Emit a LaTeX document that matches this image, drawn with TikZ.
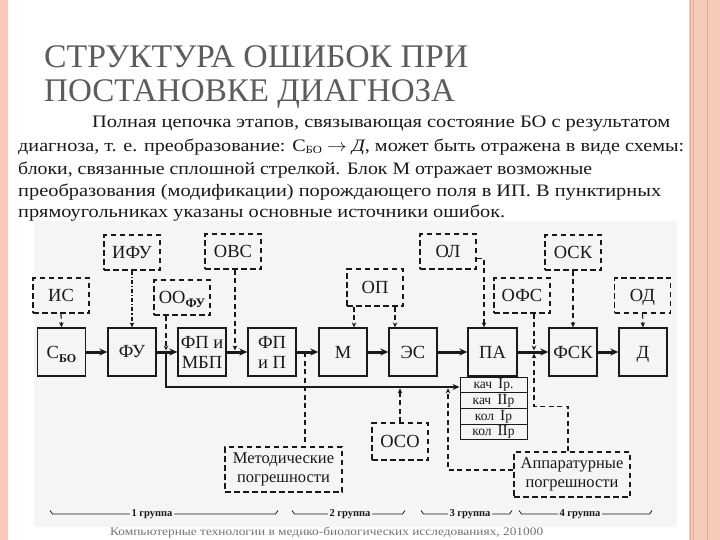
\documentclass[tikz,border=0pt]{standalone}
\usepackage{fontspec}
\setmainfont{Liberation Serif}
\usepackage{graphicx}
\usetikzlibrary{arrows.meta}
\definecolor{salmon}{RGB}{248,203,185}
\definecolor{salmonline}{RGB}{236,168,140}
\definecolor{scanbg}{RGB}{245,245,245}
\definecolor{titlegray}{RGB}{92,92,92}
\definecolor{ink}{RGB}{25,25,25}
\definecolor{footgray}{RGB}{115,115,115}
\newcommand{\fitw}[2]{\resizebox{#1}{\height}{#2}}
\newcommand{\RN}[1]{{\fontsize{15.5}{15.5}\selectfont #1}}
\newcommand{\nodepth}[1]{\raisebox{0pt}[\height][0pt]{#1}}
\begin{document}
\begin{tikzpicture}[x=1pt,y=-1pt,
  blk/.style={draw=ink, line width=1.3pt, minimum width=48pt, minimum height=48pt, inner sep=0pt, font=\rmfamily\fontsize{18.5}{20}\selectfont, align=center, text=ink},
  dbox/.style={draw=ink, line width=1.3pt, dash pattern=on 5.5pt off 3.5pt, minimum width=56pt, minimum height=35pt, inner sep=0pt, font=\rmfamily\fontsize{18.5}{20}\selectfont, align=center, text=ink},
  rowbox/.style={draw=ink, line width=1pt, minimum width=67pt, minimum height=15.75pt, inner sep=0pt, font=\rmfamily\fontsize{13.5}{13.5}\selectfont, text=ink},
  flow/.style={draw=ink, line width=3pt, -{Stealth[length=8pt,width=7pt]}},
  bus/.style={draw=ink, line width=2.5pt},
  dlink/.style={draw=ink, line width=1.2pt, dash pattern=on 5pt off 3.5pt},
  dtip/.style={-{Stealth[length=5pt,width=4.5pt]}},
  bodyline/.style={anchor=base west, inner sep=0pt, text=ink, font=\rmfamily\fontsize{17.5}{20}\selectfont},
  grp/.style={fill=scanbg, inner sep=1.5pt, text=ink, font=\rmfamily\bfseries\fontsize{10.5}{10.5}\selectfont}
]
\useasboundingbox (0,0) rectangle (720,540);
% frame strips
\fill[white] (0,0) rectangle (720,540);
\fill[salmon] (0,0) rectangle (8,540);
\fill[salmon] (689,0) rectangle (720,540);
\draw[salmonline, line width=1pt] (690.5,0) -- (690.5,540);
\draw[salmonline, line width=1pt] (693.5,0) -- (693.5,540);
\draw[salmonline, line width=1pt] (707.5,0) -- (707.5,540);
% title
\node[anchor=base west, inner sep=0pt, text=titlegray, font=\rmfamily] (t1) at (44,68) {\fitw{424pt}{\fontsize{33}{33}\selectfont СТРУКТУРА ОШИБОК ПРИ}};
\node[anchor=base west, inner sep=0pt, text=titlegray, font=\rmfamily] (t2) at (44,102) {\fitw{411pt}{\fontsize{33}{33}\selectfont ПОСТАНОВКЕ ДИАГНОЗА}};
% body
\node[bodyline] (b1) at (92,128) {\fitw{578pt}{Полная цепочка этапов, связывающая состояние БО с результатом}};
\node[bodyline] (b2) at (18,151.5) {\fitw{666pt}{диагноза, т. е. преобразование: С\raisebox{-2.5pt}{\fontsize{11}{11}\selectfont БО} $\rightarrow$ \textit{Д}, может быть отражена в виде схемы:}};
\node[bodyline] (b3) at (18,175) {\fitw{574pt}{блоки, связанные сплошной стрелкой. Блок М отражает возможные}};
\node[bodyline] (b4) at (18,197) {\fitw{643pt}{преобразования (модификации) порождающего поля в ИП. В пунктирных}};
\node[bodyline] (b5) at (18,218) {\fitw{487pt}{прямоугольниках указаны основные источники ошибок.}};
% scan background
\fill[scanbg] (34,221) rectangle (677,527);
% main blocks
\node[blk] (cbo) at (61.5,352) {\nodepth{С\raisebox{-4pt}{\fontsize{12}{12}\selectfont\bfseries БО}}};
\node[blk] (fu)  at (132,352) {ФУ};
\node[blk] (fpm) at (202,352) {ФП и\\МБП};
\node[blk] (fpp) at (272,352) {ФП\\и П};
\node[blk] (m)   at (343,352) {М};
\node[blk] (es)  at (413,352) {ЭС};
\node[blk, minimum width=49pt] (pa) at (492.5,352) {ПА};
\node[blk] (fsk) at (573,352) {ФСК};
\node[blk] (d)   at (643,352) {\nodepth{Д}};
% PA rows
\node[rowbox] (r1) at (493.5,384.9) {кач\hspace{6pt}\RN{I}р.};
\node[rowbox] (r2) at (493.5,400.6) {кач\hspace{6pt}\RN{II}р};
\node[rowbox] (r3) at (493.5,416.4) {кол\hspace{6pt}\RN{I}р};
\node[rowbox] (r4) at (493.5,432.1) {кол\hspace{6pt}\RN{II}р};
% dashed source boxes
\node[dbox] (ifu) at (132,252.5) {ИФУ};
\node[dbox] (ovs) at (233,251.5) {ОВС};
\node[dbox] (oa)  at (448,251.5) {ОЛ};
\node[dbox] (osk) at (573,252.5) {ОСК};
\node[dbox] (is)  at (61,295.5) {ИС};
\node[dbox] (oofu) at (182,297.5) {\nodepth{ОО\raisebox{-4pt}{\fontsize{13}{13}\selectfont\bfseries ФУ}}};
\node[dbox, minimum height=37pt] (op) at (375,287.5) {ОП};
\node[dbox] (ofs) at (522,295.5) {ОФС};
\node[dbox] (od)  at (642.5,295.5) {\nodepth{ОД}};
\node[dbox, minimum height=37pt] (oso) at (400,441.5) {ОСО};
\node[dbox, minimum width=117pt, minimum height=45pt, font=\rmfamily\fontsize{16.5}{19}\selectfont] (met) at (283.5,469.5) {Методические\\погрешности};
\node[dbox, minimum width=116pt, minimum height=45pt, font=\rmfamily\fontsize{16.5}{19}\selectfont] (app) at (572,474.5) {Аппаратурные\\погрешности};
% helper coordinates
\coordinate (j1) at (166,352);
\coordinate (j2) at (235,352);
\coordinate (j3) at (305,352);
\coordinate (j4) at (534,352);
\coordinate (busy) at (0,387);
\coordinate (opL) at (354,0);
\coordinate (opR) at (395,0);
\coordinate (oaL) at (484,0);
\coordinate (aT) at (568,0);
\coordinate (aL) at (448,0);
% main flow
\draw[flow] (cbo) -- (fu);
\draw[flow] (fu) -- (fpm);
\draw[flow] (fpm) -- (fpp);
\draw[flow] (fpp) -- (m);
\draw[flow] (m) -- (es);
\draw[flow] (es) -- (pa);
\draw[flow] (pa) -- (fsk);
\draw[flow] (fsk) -- (d);
% bus
\draw[bus, -{Stealth[length=7pt,width=6pt]}] (j1) |- (r1.west |- busy);
% dashed links
\draw[dlink,dtip] (is.south) -- (cbo.north);
\draw[dlink,dtip,dash pattern=on 4pt off 2pt on 1.2pt off 2pt] (ifu.south) -- (fu.north);
\draw[dlink,dtip,shorten >=1.5pt] (oofu.south -| j1) -- (j1);
\draw[dlink,dtip,shorten >=1.5pt] (ovs.south -| j2) -- (j2);
\draw[dlink] (j3) -- (met.north -| j3);
\draw[dlink,dtip] (op.south -| opL) -- (m.north -| opL);
\draw[dlink,dtip] (op.south -| opR) -- (es.north -| opR);
\draw[dlink,dtip] ([yshift=11pt]oa.south east) -| (pa.north -| oaL);
\draw[dlink,dtip,shorten >=1.5pt] (ofs.south -| j4) -- (j4);
\draw[dlink,dtip,shorten >=1.5pt] (app.north -| aT) -- ++(0,-45) -| (j4);
\draw[dlink,dtip] (osk.south) -- (fsk.north);
\draw[dlink,dtip] (od.south) -- (d.north);
\draw[dlink,dtip,shorten >=1.3pt] (oso.north) -- (oso.north |- busy);
\draw[dlink,dtip,shorten >=1.3pt] ([yshift=4.5pt]app.west) -| (aL |- busy);
% group labels
\foreach \a/\b/\t/\c in {50/278/1/152, 292/405/2/350, 421/512/3/470, 519/652/4/580} {
  \draw[ink, line width=0.8pt] (\a,510.5) -- (\a+2.5,514) -- (\b-2.5,514) -- (\b,510.5);
  \node[grp] (g\t) at (\c,514) {\t\ группа};
}
% footer
\node[anchor=base west, inner sep=0pt, text=footgray, font=\rmfamily] (foot) at (110,535) {\fitw{433pt}{\fontsize{11.5}{12}\selectfont Компьютерные технологии в медико-биологических исследованиях, 201000}};
\end{tikzpicture}
\end{document}
